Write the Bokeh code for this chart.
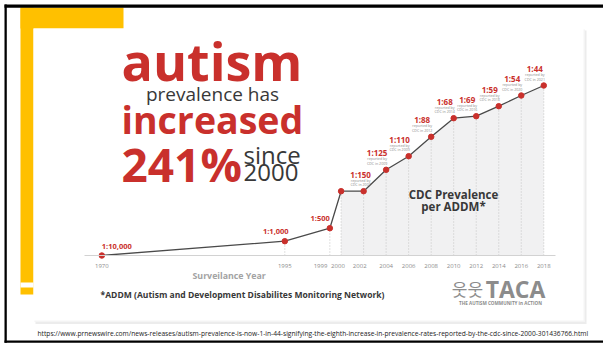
from bokeh.plotting import figure
from bokeh.models import Range1d, FixedTicker, BoxAnnotation, Label, ColumnDataSource
from bokeh.embed import file_html
from bokeh.resources import INLINE
from bokeh.core.properties import value

# ---------------- data ----------------
years = [1970, 1995, 1999, 2000, 2002, 2004, 2006, 2008, 2010, 2012, 2014, 2016, 2018]
# height of each point on the chart's own (unlabelled) vertical scale
levels = [0, 14.3, 27.3, 64.3, 64.3, 85.7, 99.3, 118.7, 137.3, 139.3, 149.3, 160, 170]
ratios = ["1:10,000", "1:1,000", "1:500", "1:150", "1:150", "1:125", "1:110",
          "1:88", "1:68", "1:69", "1:59", "1:54", "1:44"]
reported = [None, None, None, None, 2007, 2009, 2009, 2012, 2014, 2016, 2018, 2020, 2021]
tick_labels = [str(y) for y in years]

RED = "#c9302c"
DARK = "#383838"
FONT = "Open Sans"

# ---------------- scale (broken axis before 1995) ----------------
BREAK = 1995
COMPRESS = 0.65
PX_PER_YEAR = 11.26
BREAK_PX = 284.3      # page x of the 1995 tick
BASE_PX = 255.0       # page y of the baseline


def warp(y):
    return y if y >= BREAK else BREAK - (BREAK - y) * COMPRESS


xw = [warp(y) for y in years]

W, H = 603, 343
p = figure(width=W, height=H, output_backend="svg", toolbar_location=None,
           x_range=Range1d(BREAK - BREAK_PX / PX_PER_YEAR, BREAK + (W - BREAK_PX) / PX_PER_YEAR),
           y_range=Range1d(BASE_PX - H, BASE_PX),
           min_border=0)
p.yaxis.visible = False
p.grid.visible = False
p.outline_line_color = None
p.background_fill_color = "white"
p.border_fill_color = "white"


def sx(X):
    return X


def sy(Y):
    return H - Y


def box(x0, y0, x1, y1, color, level="underlay", alpha=1.0):
    p.add_layout(BoxAnnotation(left=sx(x0), right=sx(x1), top=sy(y0), bottom=sy(y1),
                               left_units="screen", right_units="screen",
                               top_units="screen", bottom_units="screen",
                               fill_color=color, fill_alpha=alpha, line_color=None,
                               level=level))


def label(X, Y, text, size, color, bold=False, align="left", font=FONT):
    p.add_layout(Label(x=sx(X), y=sy(Y), x_units="screen", y_units="screen", text=text,
                       text_font=font, text_font_size=f"{size}px",
                       text_font_style="bold" if bold else "normal",
                       text_color=color, text_align=align, text_baseline="middle"))


def big(X, baseline_y, text, size, color, bold=False, align="left"):
    # place by the text's baseline (middle of em box sits ~0.35em above it)
    label(X, baseline_y - 0.35 * size, text, size, color, bold=bold, align=align)


# ---------------- slide decoration ----------------
YELLOW = "#FFC000"
box(20, 7, 123, 28, YELLOW)
box(20, 7, 33, 294, YELLOW)
box(20, 282, 33, 287, "white")
# card with soft shadow
box(35, 30, 586, 323.5, "#ececec")
box(34, 29, 584.5, 321.5, "#f4f4f4")
box(33, 28, 583, 320, "white")
# black frame
box(4, 4, 603, 7.3, "black", level="overlay")
box(4, 4, 6.3, 342.3, "black", level="overlay")
box(4, 340, 603, 342.3, "black", level="overlay")

# ---------------- chart ----------------
src = ColumnDataSource(dict(x=xw, y=levels))
fill_idx = [i for i, y in enumerate(years) if y >= 2000]
p.varea(x=[xw[i] for i in fill_idx], y1=[0] * len(fill_idx), y2=[levels[i] for i in fill_idx],
        fill_color="#f1f1f2")
drop_idx = [i for i, y in enumerate(years) if y >= BREAK]
p.segment(x0=[xw[i] for i in drop_idx], y0=[0] * len(drop_idx),
          x1=[xw[i] for i in drop_idx], y1=[levels[i] for i in drop_idx],
          line_color="#c4c4c4", line_dash="1 2", line_width=1)
p.line("x", "y", source=src, line_color="#4a4a4a", line_width=1.3)
p.scatter("x", "y", source=src, size=5.5, fill_color=RED, line_color=RED)

# ratio labels (shown once per distinct ratio)
show = [i for i in range(len(years)) if i == len(years) - 1 or ratios[i] != ratios[i + 1]]
early = [i for i in show if reported[i] is None]
late = [i for i in show if reported[i] is not None]
early_align = {1970: ("left", 0), 1995: ("center", -9), 1999: ("right", 0)}
esrc = ColumnDataSource(dict(x=[xw[i] for i in early], y=[levels[i] for i in early],
                             t=[ratios[i] for i in early],
                             a=[early_align[years[i]][0] for i in early],
                             dx=[early_align[years[i]][1] for i in early]))
p.text("x", "y", text="t", source=esrc, text_align="a", x_offset="dx", y_offset=-10,
       text_baseline="middle", text_font=value(FONT), text_font_style="bold",
       text_font_size="7.5px", text_color=RED)

lsrc = ColumnDataSource(dict(x=[xw[i] for i in late], y=[levels[i] for i in late],
                             t=[ratios[i] for i in late],
                             r1=["reported by"] * len(late),
                             r2=[f"CDC in {reported[i]}" for i in late],
                             dx=[-3 if years[i] == 2002 else -9 for i in late]))
p.text("x", "y", text="t", source=lsrc, text_align="center", x_offset="dx", y_offset=-17,
       text_baseline="middle", text_font=value(FONT), text_font_style="bold",
       text_font_size="8px", text_color=RED)
p.text("x", "y", text="r1", source=lsrc, text_align="center", x_offset="dx", y_offset=-11,
       text_baseline="middle", text_font=value(FONT), text_font_size="3.6px", text_color="#8a8a8a")
p.text("x", "y", text="r2", source=lsrc, text_align="center", x_offset="dx", y_offset=-6.5,
       text_baseline="middle", text_font=value(FONT), text_font_size="3.6px", text_color="#8a8a8a")

# axis (crowded 1999/2000/2002 labels nudged left with trailing no-break spaces)
NBSP = "\u00a0"
nudge = {1999: 12, 2000: 4, 2002: 5}
ax = p.xaxis[0]
ax.fixed_location = 0
ax.bounds = (warp(1970) - 1.5, 2018 + 1.0)
ax.ticker = FixedTicker(ticks=xw)
ax.major_label_overrides = {x: t + NBSP * nudge.get(y, 0) for x, t, y in zip(xw, tick_labels, years)}
ax.major_tick_line_color = None
ax.minor_tick_line_color = None
ax.major_tick_out = 0
ax.major_tick_in = 0
ax.axis_line_color = "#d2d2d2"
ax.axis_line_width = 1
ax.major_label_text_font = FONT
ax.major_label_text_font_size = "6px"
ax.major_label_text_color = "#8c8c8c"
ax.major_label_standoff = 6

# ---------------- texts ----------------
big(121, 78, "autism", 52, RED, bold=True)
big(212, 100, "prevalence has", 19, DARK, align="center")
big(121, 132, "increased", 37.5, RED, bold=True)
big(121, 180, "241%", 46, RED, bold=True)
big(243, 162, "since", 24, DARK)
big(243, 180, "2000", 24, DARK)

label(192, 275, "Surveilance Year", 8.8, "#a3a3a3", bold=True)
label(100, 294, "*ADDM (Autism and Development Disabilites Monitoring Network)", 8.55, DARK,
      bold=True)
label(453, 194, "CDC Prevalence", 11.5, DARK, bold=True, align="center")
label(453, 206, "per ADDM*", 11.5, DARK, bold=True, align="center")

# TACA logo
label(467, 288, "\uc6c3\uc6c3", 17, "#8c8c8c", align="center", font="Noto Sans CJK KR")
label(515, 288, "TACA", 23, "#8c8c8c", bold=True, align="center")
label(500, 302, "THE AUTISM COMMUNITY in ACTION", 4.6, "#8c8c8c", bold=True, align="center")

label(37, 333, "https://www.prnewswire.com/news-releases/autism-prevalence-is-now-1-in-44-signifying-the-eighth-increase-in-prevalence-rates-reported-by-the-cdc-since-2000-301436766.html",
      6.67, "#222222")

open("out.html", "w").write(file_html(p, INLINE))
